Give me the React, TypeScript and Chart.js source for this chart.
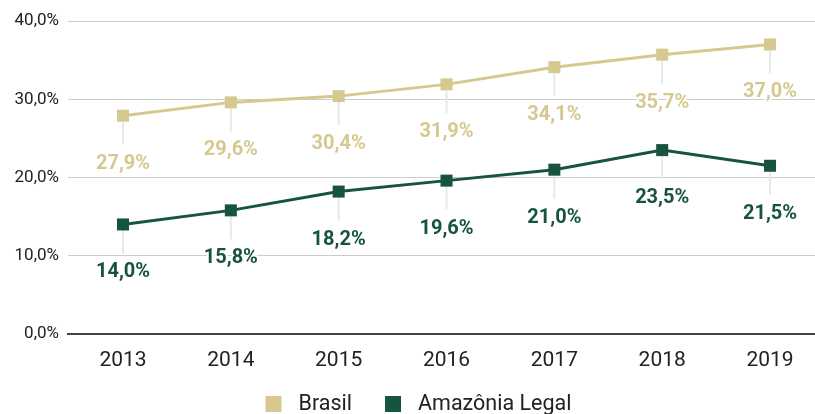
import React, { useEffect, useRef } from "react";
import { Chart, registerables } from "chart.js";

Chart.register(...registerables);

const years = ["2013", "2014", "2015", "2016", "2017", "2018", "2019"];
const brasil = [27.9, 29.6, 30.4, 31.9, 34.1, 35.7, 37.0];
const amazonia = [14.0, 15.8, 18.2, 19.6, 21.0, 23.5, 21.5];
const yTicks = [0, 10, 20, 30, 40];
const seriesNames = ["Brasil", "Amazônia Legal"];
const seriesColors = ["#d5c98f", "#17543d"];

const fmt = (v: number) => v.toFixed(1).replace(".", ",") + "%";

const labelPlugin = {
  id: "pointLabels",
  beforeDatasetsDraw(chart: any) {
    const ctx = chart.ctx;
    ctx.save();
    ctx.strokeStyle = "#e8e8e8";
    ctx.lineWidth = 2;
    chart.data.datasets.forEach((_: any, di: number) => {
      const meta = chart.getDatasetMeta(di);
      meta.data.forEach((pt: any) => {
        ctx.beginPath();
        ctx.moveTo(pt.x, pt.y + 6);
        ctx.lineTo(pt.x, pt.y + 29);
        ctx.stroke();
      });
    });
    ctx.restore();
  },
  afterDatasetsDraw(chart: any) {
    const ctx = chart.ctx;
    ctx.save();
    ctx.font = "bold 20px Roboto";
    ctx.textAlign = "center";
    ctx.textBaseline = "middle";
    chart.data.datasets.forEach((ds: any, di: number) => {
      const meta = chart.getDatasetMeta(di);
      meta.data.forEach((pt: any, i: number) => {
        const v = ds.data[i].y;
        const t = fmt(v);
        ctx.lineWidth = 4;
        ctx.strokeStyle = "#ffffff";
        ctx.strokeText(t, pt.x, pt.y + 48);
        ctx.fillStyle = ds.borderColor;
        ctx.fillText(t, pt.x, pt.y + 48);
      });
    });
    ctx.restore();
  },
  afterDraw(chart: any) {
    const ctx = chart.ctx;
    ctx.save();
    ctx.font = "21.5px Roboto";
    ctx.textBaseline = "middle";
    const box = 16;
    const gap = 17;
    const itemGap = 33;
    const widths = seriesNames.map((n) => box + gap + ctx.measureText(n).width);
    const total = widths.reduce((a, b) => a + b, 0) + itemGap * (widths.length - 1);
    let x = (chart.width - total) / 2 + 11;
    const cy = 404;
    seriesNames.forEach((n, i) => {
      ctx.fillStyle = seriesColors[i];
      ctx.fillRect(x, cy - box / 2, box, box);
      ctx.fillStyle = "#222222";
      ctx.fillText(n, x + box + gap, cy + 1);
      x += widths[i] + itemGap;
    });
    ctx.restore();
  },
};

export default function App() {
  const ref = useRef<HTMLCanvasElement>(null);
  useEffect(() => {
    document.body.style.margin = "0";
    const mk = (arr: number[]) => arr.map((y, i) => ({ x: i, y }));
    const chart = new Chart(ref.current!, {
      type: "line",
      data: {
        datasets: [brasil, amazonia].map((arr, i) => ({
          label: seriesNames[i],
          data: mk(arr),
          borderColor: seriesColors[i],
          backgroundColor: seriesColors[i],
          borderWidth: 3,
          pointStyle: "rect",
          pointRadius: 8.5,
          pointBorderWidth: 0,
          pointHoverRadius: 8.5,
          fill: false,
          tension: 0,
        })),
      },
      options: {
        animation: false,
        responsive: true,
        maintainAspectRatio: false,
        layout: { autoPadding: false, padding: { top: 21, left: 0, right: 0, bottom: 0 } },
        plugins: { legend: { display: false }, tooltip: { enabled: false } },
        scales: {
          x: {
            type: "linear",
            min: -0.51,
            max: 6.417,
            afterBuildTicks: (s: any) => {
              s.ticks = years.map((_, i) => ({ value: i }));
            },
            afterFit: (s: any) => {
              s.height = 80;
              s.paddingLeft = 0;
              s.paddingRight = 0;
            },
            grid: { display: false, drawTicks: false },
            border: { display: true, color: "#444444", width: 2 },
            ticks: {
              autoSkip: false,
              maxRotation: 0,
              padding: 14,
              color: "#222222",
              font: { family: "Roboto", size: 21 },
              callback: (v: any) => years[v as number] ?? "",
            },
          },
          y: {
            min: 0,
            max: 40,
            afterBuildTicks: (s: any) => {
              s.ticks = yTicks.map((v) => ({ value: v }));
            },
            afterFit: (s: any) => {
              s.width = 68;
              s.paddingTop = 0;
              s.paddingBottom = 0;
            },
            grid: {
              color: (c: any) => (c.tick && c.tick.value === 0 ? "rgba(0,0,0,0)" : "#cccccc"),
              lineWidth: 1,
              drawTicks: false,
            },
            border: { display: false },
            ticks: {
              padding: 9,
              color: "#222222",
              font: { family: "Roboto", size: 17 },
              callback: (v: any) => fmt(v as number),
            },
          },
        },
      },
      plugins: [labelPlugin],
    });
    return () => chart.destroy();
  }, []);
  return (
    <div style={{ width: 815, height: 414, position: "relative" }}>
      <canvas ref={ref} />
    </div>
  );
}
